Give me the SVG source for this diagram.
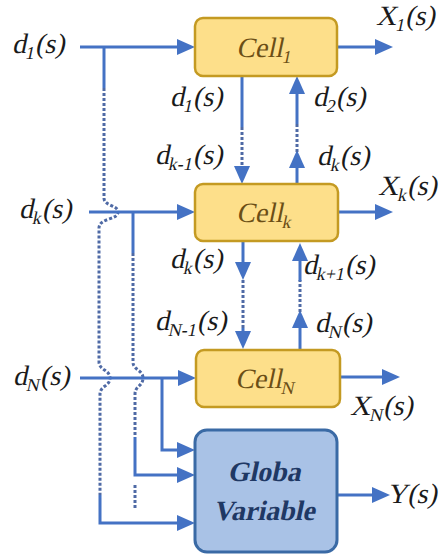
<svg xmlns="http://www.w3.org/2000/svg" width="443" height="554" viewBox="0 0 443 554">
<style>
text{font-family:Liberation Serif,serif}
.t{font-size:28px;fill:#1a1a1a}
.s{font-size:18px}
.ln{fill:none;stroke:#4472C4;stroke-width:3}
.dt{fill:none;stroke:#4F6AA5;stroke-width:3;stroke-dasharray:3 2}
.cell rect{fill:#FDDF8A;stroke:#C49A22;stroke-width:2.5}
.cell text{fill:#6B4E16;text-anchor:middle;font-size:28px}
.gv rect{fill:#A9C2E6;stroke:#3A6AA5;stroke-width:3}
.gv text{font-weight:bold;font-size:28px;fill:#1F3864;text-anchor:middle}
</style>
<defs>
<marker id="a" markerUnits="userSpaceOnUse" markerWidth="18" markerHeight="16" refX="8" refY="8" orient="auto">
<path d="M0,0 L18,8 L0,16 z" fill="#4472C4"/>
</marker>
</defs>
<g id="connectors">
<path class="ln" d="M80,47 H185" marker-end="url(#a)"/>
<path class="ln" d="M104,47 V88"/>
<path class="dt" d="M104,88 V198 C104,206 118,205 118,212 C118,220 99,218 99,228 V362 C99,370 110,370 110,378 C110,386 100,386 100,394 V495"/>
<path class="ln" d="M100,495 V523 H185" marker-end="url(#a)"/>
<path class="ln" d="M89,212 H185" marker-end="url(#a)"/>
<path class="ln" d="M133,212 V253"/>
<path class="dt" d="M133,253 V362 C133,370 143,370 143,378 C143,386 135,386 135,394 V437"/>
<path class="ln" d="M135,437 V475 H185" marker-end="url(#a)"/>
<path class="dt" d="M135,485 V508"/>
<path class="ln" d="M80,378 H186" marker-end="url(#a)"/>
<path class="ln" d="M162,378 V450 H185" marker-end="url(#a)"/>
<path class="ln" d="M242,76 V127"/>
<path class="dt" d="M242,127 V168"/>
<path class="ln" d="M242,166 V174" marker-end="url(#a)"/>
<path class="ln" d="M297,184 V160" marker-end="url(#a)"/>
<path class="dt" d="M297,152 V123"/>
<path class="ln" d="M297,124 V86" marker-end="url(#a)"/>
<path class="ln" d="M243,241 V270" marker-end="url(#a)"/>
<path class="dt" d="M243,280 V330"/>
<path class="ln" d="M243,328 V339" marker-end="url(#a)"/>
<path class="ln" d="M300,350 V320" marker-end="url(#a)"/>
<path class="dt" d="M300,312 V280"/>
<path class="ln" d="M300,281 V253" marker-end="url(#a)"/>
<path class="ln" d="M337,47 H383" marker-end="url(#a)"/>
<path class="ln" d="M338,212 H383" marker-end="url(#a)"/>
<path class="ln" d="M340,377 H390" marker-end="url(#a)"/>
<path class="ln" d="M337,495 H380" marker-end="url(#a)"/>
</g>
<g id="cell1" class="cell">
<rect x="195" y="18" width="142" height="58" rx="8"/>
<text class="t" font-family="Liberation Serif" transform="translate(264,57) skewX(-12)">Cell<tspan class="s" dy="6">1</tspan></text>
</g>
<g id="cellk" class="cell">
<rect x="195" y="184" width="143" height="57" rx="8"/>
<text class="t" font-family="Liberation Serif" transform="translate(264,222) skewX(-12)">Cell<tspan class="s" dy="6">k</tspan></text>
</g>
<g id="cellN" class="cell">
<rect x="196" y="350" width="144" height="57" rx="8"/>
<text class="t" font-family="Liberation Serif" transform="translate(265,388) skewX(-12)">Cell<tspan class="s" dy="6">N</tspan></text>
</g>
<g id="global" class="gv">
<rect x="195" y="430" width="142" height="122" rx="12"/>
<text font-family="Liberation Serif" transform="translate(264,481) skewX(-12)">Globa</text>
<text font-family="Liberation Serif" transform="translate(264,520) skewX(-12)">Variable</text>
</g>
<g id="labels">
<text class="t" font-family="Liberation Serif" transform="translate(12,53) skewX(-12)">d<tspan class="s" dy="6">1</tspan><tspan dy="-6">(s)</tspan></text>
<text class="t" font-family="Liberation Serif" transform="translate(170,106) skewX(-12)">d<tspan class="s" dy="6">1</tspan><tspan dy="-6">(s)</tspan></text>
<text class="t" font-family="Liberation Serif" transform="translate(155,164) skewX(-12)">d<tspan class="s" dy="6">k-1</tspan><tspan dy="-6">(s)</tspan></text>
<text class="t" font-family="Liberation Serif" transform="translate(376,25) skewX(-12)">X<tspan class="s" dy="6">1</tspan><tspan dy="-6">(s)</tspan></text>
<text class="t" font-family="Liberation Serif" transform="translate(313,106) skewX(-12)">d<tspan class="s" dy="6">2</tspan><tspan dy="-6">(s)</tspan></text>
<text class="t" font-family="Liberation Serif" transform="translate(317,165) skewX(-12)">d<tspan class="s" dy="6">k</tspan><tspan dy="-6">(s)</tspan></text>
<text class="t" font-family="Liberation Serif" transform="translate(378,195) skewX(-12)">X<tspan class="s" dy="6">k</tspan><tspan dy="-6">(s)</tspan></text>
<text class="t" font-family="Liberation Serif" transform="translate(19,218) skewX(-12)">d<tspan class="s" dy="6">k</tspan><tspan dy="-6">(s)</tspan></text>
<text class="t" font-family="Liberation Serif" transform="translate(170,268) skewX(-12)">d<tspan class="s" dy="6">k</tspan><tspan dy="-6">(s)</tspan></text>
<text class="t" font-family="Liberation Serif" transform="translate(155,330) skewX(-12)">d<tspan class="s" dy="6">N-1</tspan><tspan dy="-6">(s)</tspan></text>
<text class="t" font-family="Liberation Serif" transform="translate(303,274) skewX(-12)">d<tspan class="s" dy="6">k+1</tspan><tspan dy="-6">(s)</tspan></text>
<text class="t" font-family="Liberation Serif" transform="translate(315,332) skewX(-12)">d<tspan class="s" dy="6">N</tspan><tspan dy="-6">(s)</tspan></text>
<text class="t" font-family="Liberation Serif" transform="translate(13,385) skewX(-12)">d<tspan class="s" dy="6">N</tspan><tspan dy="-6">(s)</tspan></text>
<text class="t" font-family="Liberation Serif" transform="translate(350,415) skewX(-12)">X<tspan class="s" dy="6">N</tspan><tspan dy="-6">(s)</tspan></text>
<text class="t" font-family="Liberation Serif" transform="translate(387,503) skewX(-12)">Y(s)</text>
</g>
</svg>
